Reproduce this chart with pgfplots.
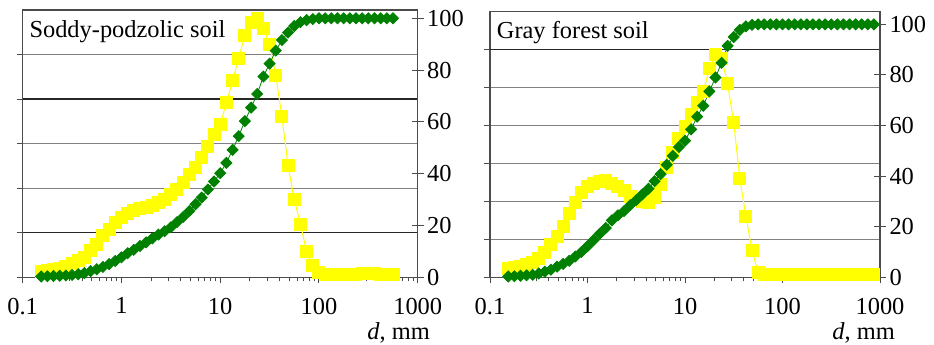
\documentclass[border=0pt]{standalone}
\usepackage{fontspec}
\setmainfont{Liberation Serif}
\usepackage{pgfplots}
\pgfplotsset{compat=1.18}
\usepackage{pgfplotstable}
\definecolor{dgreen}{RGB}{0,128,0}
\definecolor{yel}{RGB}{255,255,0}

\pgfplotstableread{
x cum freq
0.1540 0.3 2.2
0.1778 0.4 2.5
0.2054 0.5 2.9
0.2371 0.6 3.3
0.2738 0.7 4.2
0.3162 0.9 5.2
0.3652 1.2 6.4
0.4217 1.6 7.8
0.4870 2.4 10.5
0.5623 3.1 12.8
0.6494 4.0 16.0
0.7499 5.1 18.5
0.8660 6.3 21.0
1.000 7.7 23.2
1.155 9.3 24.6
1.334 10.6 25.6
1.540 12.1 26.4
1.778 13.5 26.9
2.054 15.0 27.6
2.371 16.5 28.7
2.738 17.8 30.0
3.162 19.3 31.8
3.652 21.3 34.0
4.217 23.3 36.5
4.870 25.6 39.5
5.623 28.2 42.5
6.494 30.8 46.3
7.499 33.9 50.5
8.660 37.0 55.0
10.00 40.2 58.8
11.55 44.2 67.5
13.34 49.2 75.8
15.40 54.5 84.6
17.78 60.3 93.5
20.54 65.5 98.5
23.71 70.8 99.8
27.38 77.5 96.2
31.62 82.5 90.0
36.52 87.5 78.0
42.17 91.6 62.0
48.70 94.5 43.0
56.23 97.0 30.0
64.94 98.5 20.5
74.99 99.3 10.0
86.60 99.7 4.5
100.0 100 1.8
115.5 100 1.2
133.4 100 1.0
154.0 100 1.0
177.8 100 1.0
205.4 100 1.1
237.1 100 1.2
273.8 100 1.3
316.2 100 1.4
365.2 100 1.3
421.7 100 1.2
487.0 100 1.1
562.3 100 1.0
}\soddytab

\pgfplotstableread{
x cum freq
0.1540 0.3 3.3
0.1778 0.4 3.8
0.2054 0.6 4.4
0.2371 0.8 5.2
0.2738 1.0 6.0
0.3162 1.5 7.5
0.3652 2.2 10.0
0.4217 3.0 13.0
0.4870 4.2 16.2
0.5623 5.3 20.0
0.6494 6.5 25.2
0.7499 8.2 29.5
0.8660 10.0 33.5
1.000 12.3 35.8
1.155 14.7 37.0
1.334 17.2 38.0
1.540 19.5 38.2
1.778 22.5 37.2
2.054 24.5 36.0
2.371 26.2 34.2
2.738 28.5 32.0
3.162 30.5 30.7
3.652 32.8 29.8
4.217 35.0 29.6
4.870 38.0 31.5
5.623 40.8 36.5
6.494 44.5 43.3
7.499 48.0 49.5
8.660 51.5 55.0
10.00 54.0 59.5
11.55 58.5 64.2
13.34 63.5 69.0
15.40 67.8 73.5
17.78 73.5 82.5
20.54 79.0 88.2
23.71 84.8 86.5
27.38 91.5 76.5
31.62 95.0 61.0
36.52 97.8 39.0
42.17 99.2 24.0
48.70 99.8 10.5
56.23 100 2.0
64.94 100 1.2
74.99 100 1.0
86.60 100 1.0
100.0 100 1.0
115.5 100 1.0
133.4 100 1.0
154.0 100 1.0
177.8 100 1.0
205.4 100 1.0
237.1 100 1.0
273.8 100 1.0
316.2 100 1.0
365.2 100 1.0
421.7 100 1.0
487.0 100 1.0
562.3 100 1.0
649.4 100 1.0
749.9 100 1.0
866.0 100 1.0
}\graytab

\begin{document}
\begin{tikzpicture}[font=\fontsize{24.5}{28}\selectfont]
\useasboundingbox (0,0) rectangle (934bp,345bp);
% left panel background
\begin{axis}[name=bgL, at={(22.7bp,67.7bp)}, anchor=south west, width=395bp, height=267.3bp,
    scale only axis, xmode=log, xmin=0.1, xmax=1000, ymin=0, ymax=103.2,
    axis line style={black!70, line width=1.2bp},
    tick style={black!70, line width=1bp},
    xtick={0.1,1,10,100,1000}, xticklabels={0.1,1,10,100,1000},
    minor xtick={0.2,0.3,0.4,0.5,0.6,0.7,0.8,0.9,2,3,4,5,6,7,8,9,20,30,40,50,60,70,80,90,200,300,400,500,600,700,800,900},
    xtick pos=left, ytick pos=left, tick align=outside,
    major tick length=6bp, minor tick length=4bp,
    ytick={0,34.4,51.6,86.0}, yticklabels={}, ymajorgrids,
    extra y ticks={17.2,68.8}, extra y tick labels={},
    extra y tick style={grid style={black!85, line width=1.2bp}},
    grid style={black!50, line width=1.1bp},
    xticklabel style={yshift=-11bp}]
\end{axis}
\begin{axis}[at={(22.7bp,67.7bp)}, anchor=south west, width=395bp, height=267.3bp,
    scale only axis, xmode=log, xmin=0.1, xmax=1000, ymin=0, ymax=103.2,
    axis line style={black!70, line width=1.2bp},
    tick style={black!70, line width=1bp},
    axis x line=none, axis y line*=right,
    ytick={0,20,40,60,80,100}, yticklabels={0,20,40,60,80,100},
    tick align=center, major tick length=12bp, clip=false]
  \addplot[yel, line width=1bp, mark=square*, mark size=6bp, mark options={fill=yel, draw=yel}] table[x=x, y=freq] {\soddytab};
  \addplot[dgreen, line width=0.8bp, mark=square*, mark size=3.9bp, mark options={rotate=45, fill=dgreen, draw=dgreen}] table[x=x, y=cum] {\soddytab};
\end{axis}
% right panel background
\begin{axis}[name=bgR, at={(490bp,67.7bp)}, anchor=south west, width=390bp, height=265.6bp,
    scale only axis, xmode=log, xmin=0.1, xmax=1000, ymin=0, ymax=105,
    axis line style={black!70, line width=1.2bp},
    tick style={black!70, line width=1bp},
    xtick={0.1,1,10,100,1000}, xticklabels={0.1,1,10,100,1000},
    minor xtick={0.2,0.3,0.4,0.5,0.6,0.7,0.8,0.9,2,3,4,5,6,7,8,9,20,30,40,50,60,70,80,90,200,300,400,500,600,700,800,900},
    xtick pos=left, ytick pos=left, tick align=outside,
    major tick length=6bp, minor tick length=4bp,
    ytick={0,15,30,45,60,75}, yticklabels={}, ymajorgrids,
    extra y ticks={90}, extra y tick labels={},
    extra y tick style={grid style={black!85, line width=1.2bp}},
    grid style={black!50, line width=1.1bp},
    xticklabel style={yshift=-11bp}]
\end{axis}
\begin{axis}[at={(490bp,67.7bp)}, anchor=south west, width=390bp, height=265.6bp,
    scale only axis, xmode=log, xmin=0.1, xmax=1000, ymin=0, ymax=105,
    axis line style={black!70, line width=1.2bp},
    tick style={black!70, line width=1bp},
    axis x line=none, axis y line*=right,
    ytick={0,20,40,60,80,100}, yticklabels={0,20,40,60,80,100},
    tick align=center, major tick length=12bp, clip=false]
  \addplot[yel, line width=1bp, mark=square*, mark size=6bp, mark options={fill=yel, draw=yel}] table[x=x, y=freq] {\graytab};
  \addplot[dgreen, line width=0.8bp, mark=square*, mark size=3.9bp, mark options={rotate=45, fill=dgreen, draw=dgreen}] table[x=x, y=cum] {\graytab};
\end{axis}
\node[anchor=north west, inner sep=0pt, xshift=6.6bp, yshift=-10.5bp] at (bgL.north west) {Soddy-podzolic soil};
\node[anchor=north east, inner sep=0pt, xshift=12.3bp, yshift=-45bp] at (bgL.south east) {\textit{d}, mm};
\node[anchor=north west, inner sep=0pt, xshift=6.7bp, yshift=-9bp] at (bgR.north west) {Gray forest soil};
\node[anchor=north east, inner sep=0pt, xshift=15bp, yshift=-45bp] at (bgR.south east) {\textit{d}, mm};
\end{tikzpicture}
\end{document}
